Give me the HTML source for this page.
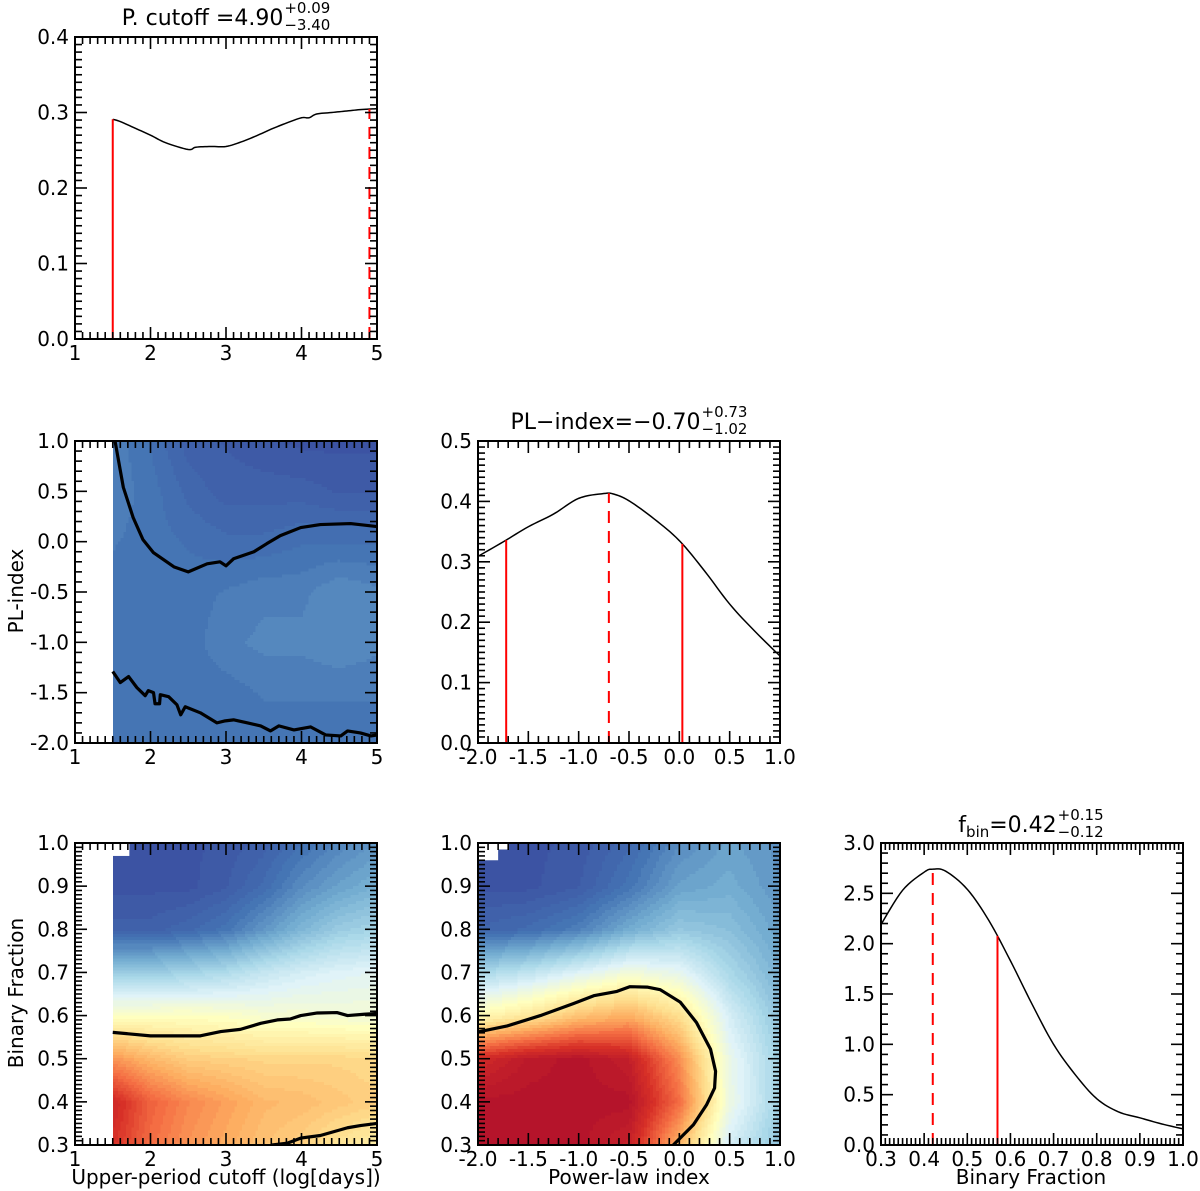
<!DOCTYPE html>
<html><head><meta charset="utf-8"><style>
html,body{margin:0;padding:0;background:#fff;}
svg{display:block;font-family:"DejaVu Sans","Liberation Sans",sans-serif;}
</style></head><body>
<svg id="fig" width="1200" height="1191" viewBox="0 0 1200 1191" xmlns="http://www.w3.org/2000/svg">
<g id="layer"></g>
</svg>
<script>
// ---------- data ----------
const pcX = [1.5,1.6,1.8,2.0,2.2,2.5,2.6,2.8,3.0,3.2,3.4,3.6,3.8,4.0,4.1,4.2,4.4,4.6,4.8,5.0];
const pcY = [0.291,0.288,0.279,0.270,0.260,0.251,0.254,0.255,0.255,0.261,0.269,0.278,0.286,0.293,0.293,0.298,0.300,0.302,0.304,0.305];
const pcSolid = [1.5];
const pcDashed = [4.9];
const plX = [-2.0,-1.75,-1.5,-1.25,-1.0,-0.75,-0.65,-0.5,-0.25,0.0,0.25,0.5,0.75,1.0];
const plY = [0.309,0.333,0.358,0.379,0.405,0.413,0.412,0.401,0.371,0.335,0.285,0.230,0.185,0.144];
const plSolid = [-1.72,0.03];
const plDashed = [-0.70];
const bfX = [0.30,0.35,0.40,0.42,0.45,0.50,0.55,0.60,0.65,0.70,0.75,0.80,0.85,0.90,0.95,1.00];
const bfY = [2.19,2.53,2.71,2.74,2.72,2.54,2.23,1.83,1.40,1.00,0.70,0.46,0.33,0.27,0.21,0.16];
const bfSolid = [0.57];
const bfDashed = [0.42];
const gridPCx = [1.5,2.0,2.5,3.0,3.5,4.0,4.5,5.0];
const gridPLy = [1.0,0.5,0.0,-0.5,-1.0,-1.5,-2.0];
const densPLPC = [
 [0.12,0.09,0.05,0.04,0.03,0.02,0.02,0.02],
 [0.12,0.10,0.07,0.05,0.05,0.05,0.04,0.04],
 [0.11,0.10,0.09,0.08,0.08,0.09,0.09,0.09],
 [0.10,0.10,0.10,0.11,0.12,0.12,0.14,0.13],
 [0.10,0.10,0.10,0.12,0.13,0.13,0.14,0.13],
 [0.10,0.10,0.10,0.10,0.11,0.11,0.11,0.11],
 [0.09,0.10,0.10,0.10,0.10,0.10,0.10,0.10]];
const cPLPC1x = [1.53,1.64,1.77,1.9,2.04,2.31,2.5,2.75,2.92,3.0,3.1,3.37,3.54,3.72,3.99,4.25,4.65,5.0];
const cPLPC1y = [1.0,0.54,0.24,0.02,-0.11,-0.25,-0.3,-0.22,-0.2,-0.24,-0.17,-0.1,-0.02,0.06,0.14,0.17,0.18,0.15];
const cPLPC2x = [1.5,1.6,1.71,1.82,1.93,1.97,2.04,2.06,2.12,2.13,2.24,2.35,2.4,2.46,2.66,2.88,2.99,3.1,3.28,3.46,3.59,3.7,3.9,4.12,4.32,4.52,4.61,4.78,4.92,5.0];
const cPLPC2y = [-1.29,-1.4,-1.34,-1.45,-1.53,-1.48,-1.5,-1.61,-1.61,-1.52,-1.54,-1.62,-1.72,-1.64,-1.7,-1.8,-1.78,-1.77,-1.8,-1.83,-1.88,-1.83,-1.87,-1.84,-1.92,-1.93,-1.88,-1.9,-1.93,-1.92];
const gridBFy = [1.0,0.9,0.8,0.7,0.6,0.5,0.4,0.3];
const densBFPC = [
 [0.02,0.02,0.02,0.03,0.05,0.09,0.13,0.16],
 [0.02,0.02,0.02,0.04,0.08,0.14,0.18,0.21],
 [0.05,0.05,0.07,0.10,0.16,0.22,0.27,0.29],
 [0.27,0.27,0.29,0.31,0.35,0.38,0.40,0.41],
 [0.50,0.50,0.50,0.49,0.47,0.47,0.46,0.46],
 [0.74,0.68,0.64,0.63,0.62,0.62,0.62,0.61],
 [0.93,0.82,0.76,0.72,0.68,0.67,0.65,0.63],
 [0.90,0.80,0.74,0.70,0.66,0.63,0.58,0.55]];
const cBFPC1x = [1.5,2.0,2.66,2.93,3.19,3.46,3.68,3.85,3.99,4.21,4.47,4.61,4.83,5.0];
const cBFPC1y = [0.561,0.553,0.553,0.563,0.568,0.582,0.59,0.592,0.6,0.606,0.607,0.6,0.603,0.605];
const cBFPC2x = [3.61,3.81,3.99,4.25,4.43,4.61,4.78,5.0];
const cBFPC2y = [0.3,0.304,0.316,0.322,0.331,0.34,0.345,0.35];
const gridPLx = [-2.0,-1.5,-1.0,-0.5,0.0,0.5,1.0];
const densBFPL = [
 [0.02,0.02,0.03,0.07,0.14,0.18,0.15],
 [0.02,0.02,0.04,0.10,0.18,0.20,0.16],
 [0.06,0.08,0.12,0.20,0.26,0.24,0.18],
 [0.30,0.34,0.40,0.46,0.42,0.30,0.21],
 [0.52,0.58,0.66,0.70,0.60,0.38,0.25],
 [0.92,0.98,1.00,0.96,0.75,0.43,0.28],
 [1.00,1.00,1.00,1.00,0.80,0.44,0.28],
 [1.00,1.00,1.00,0.95,0.68,0.38,0.25]];
const cBFPLx = [-2,-1.71,-1.38,-1.05,-0.85,-0.62,-0.49,-0.32,-0.19,0.01,0.17,0.31,0.36,0.35,0.27,0.14,-0.06];
const cBFPLy = [0.562,0.576,0.6,0.628,0.646,0.656,0.667,0.666,0.66,0.631,0.584,0.522,0.471,0.432,0.393,0.347,0.3];

// ---------- helpers ----------
const NS = "http://www.w3.org/2000/svg";
const root = document.getElementById('layer');
function mk(tag, attrs, parent){
  const e = document.createElementNS(NS, tag);
  for (const k in attrs) e.setAttribute(k, attrs[k]);
  (parent||root).appendChild(e);
  return e;
}
const stops = [[0,'#3a4c9f'],[0.1,'#4575b4'],[0.2,'#74add1'],[0.3,'#abd9e9'],[0.4,'#e0f3f8'],[0.5,'#ffffbf'],[0.6,'#fee090'],[0.7,'#fdae61'],[0.8,'#f46d43'],[0.9,'#d73027'],[1.0,'#b5142b']];
function hex(c){return [parseInt(c.substr(1,2),16),parseInt(c.substr(3,2),16),parseInt(c.substr(5,2),16)];}
function cmap(v){
  v = Math.max(0, Math.min(1, v));
  v = Math.round(v*60)/60;
  for (let i=0;i<stops.length-1;i++){
    if (v <= stops[i+1][0]){
      const t=(v-stops[i][0])/(stops[i+1][0]-stops[i][0]);
      const a=hex(stops[i][1]), b=hex(stops[i+1][1]);
      return 'rgb('+a.map((q,j)=>Math.round(q+(b[j]-q)*t)).join(',')+')';
    }
  }
  return stops[stops.length-1][1];
}
function smooth(xs, ys){
  // Catmull-Rom densification (rendering only)
  const ox=[], oy=[];
  for (let i=0;i<xs.length-1;i++){
    const i0=Math.max(0,i-1), i3=Math.min(xs.length-1,i+2);
    for (let s=0;s<8;s++){
      const t=s/8, t2=t*t, t3=t2*t;
      const f=(p0,p1,p2,p3)=>0.5*((2*p1)+(-p0+p2)*t+(2*p0-5*p1+4*p2-p3)*t2+(-p0+3*p1-3*p2+p3)*t3);
      ox.push(f(xs[i0],xs[i],xs[i+1],xs[i3])); oy.push(f(ys[i0],ys[i],ys[i+1],ys[i3]));
    }
  }
  ox.push(xs[xs.length-1]); oy.push(ys[ys.length-1]);
  return [ox,oy];
}
function makePanel(cfg){
  const L=cfg.x, T=cfg.y, W=302, H=302;
  const sx = v => L + (v-cfg.xmin)/(cfg.xmax-cfg.xmin)*W;
  const sy = v => T + H - (v-cfg.ymin)/(cfg.ymax-cfg.ymin)*H;
  const g = mk('g',{});
  
  
  return {L,T,W,H,sx,sy,g,cfg};
}
function heatmap(p, gx, gy, dens){
  const hg = mk('g',{'shape-rendering':'crispEdges'}, p.g);
  
  
  const N=100;
  const x0=gx[0], x1=gx[gx.length-1], y0=gy[gy.length-1], y1=gy[0];
  // bicubic-ish: smooth with cosine interpolation
  const sm = t => t; 
  for (let i=0;i<N;i++){
    for (let j=0;j<N;j++){
      const xv = x0 + (i+0.5)/N*(x1-x0);
      const yv = y0 + (j+0.5)/N*(y1-y0);
      let fi = (xv-x0)/(x1-x0)*(gx.length-1);
      let fj = (y1-yv)/(y1-y0)*(gy.length-1);
      let i0=Math.min(Math.floor(fi),gx.length-2), j0=Math.min(Math.floor(fj),gy.length-2);
      const tx=sm(fi-i0), ty=sm(fj-j0);
      const v = dens[j0][i0]*(1-tx)*(1-ty)+dens[j0][i0+1]*tx*(1-ty)+dens[j0+1][i0]*(1-tx)*ty+dens[j0+1][i0+1]*tx*ty;
      const xa=p.sx(x0+i/N*(x1-x0)), xb=p.sx(x0+(i+1)/N*(x1-x0));
      const ya=p.sy(y0+(j+1)/N*(y1-y0)), yb=p.sy(y0+j/N*(y1-y0));
      const r = mk('rect',{x:xa.toFixed(2),y:ya.toFixed(2),width:(xb-xa+0.6).toFixed(2),height:(yb-ya+0.6).toFixed(2),fill:cmap(v)},hg);
      
      
    }
  }
}
function line(p, xs, ys, attrs, name){
  const d = xs.map((x,i)=>(i?'L':'M')+p.sx(x).toFixed(2)+','+p.sy(ys[i]).toFixed(2)).join('');
  const e = mk('path', Object.assign({d, fill:'none'}, attrs), p.g);
  
  
  return e;
}
function interp(xs, ys, x){
  for (let i=0;i<xs.length-1;i++) if (x>=xs[i] && x<=xs[i+1]) return ys[i]+(ys[i+1]-ys[i])*(x-xs[i])/(xs[i+1]-xs[i]);
  return ys[ys.length-1];
}
function vline(p, x, top, dashed, name){
  const e = mk('line',{x1:p.sx(x),x2:p.sx(x),y1:p.sy(0),y2:p.sy(top),stroke:'#ff0000','stroke-width':2,'stroke-dasharray':dashed?'12,8':'none'},p.g);
  
  
}
function frame(p, xmaj, xmin, ymaj, ymin, xd, yd){
  const c=p.cfg, g=p.g;
  const ax = mk('g',{stroke:'#000','stroke-width':1.6},g);
  
  
  const eps=1e-9;
  const nx = Math.round((c.xmax-c.xmin)/xmin);
  for (let k=0;k<=nx;k++){
    const v=c.xmin+k*xmin, X=p.sx(v);
    const isMaj = Math.abs((v-c.xmin)/xmaj - Math.round((v-c.xmin)/xmaj))<1e-6;
    const len = isMaj?12:7;
    mk('line',{x1:X,x2:X,y1:p.T+p.H,y2:p.T+p.H-len},ax);
    mk('line',{x1:X,x2:X,y1:p.T,y2:p.T+len},ax);
  }
  const ny = Math.round((c.ymax-c.ymin)/ymin);
  for (let k=0;k<=ny;k++){
    const v=c.ymin+k*ymin, Y=p.sy(v);
    const isMaj = Math.abs((v-c.ymin)/ymaj - Math.round((v-c.ymin)/ymaj))<1e-6;
    const len = isMaj?12:7;
    mk('line',{x1:p.L,x2:p.L+len,y1:Y,y2:Y},ax);
    mk('line',{x1:p.L+p.W,x2:p.L+p.W-len,y1:Y,y2:Y},ax);
  }
  const fr = mk('rect',{x:p.L,y:p.T,width:p.W,height:p.H,fill:'none',stroke:'#000','stroke-width':2},g);
  
  
  const tl = mk('g',{'font-size':20,fill:'#000'},g);
  
  
  const mx = Math.round((c.xmax-c.xmin)/xmaj);
  for (let k=0;k<=mx;k++){
    const v=c.xmin+k*xmaj;
    const t=mk('text',{x:p.sx(v),y:p.T+p.H+21,'text-anchor':'middle'},tl);
    t.textContent = (Math.abs(v)<eps?0:v).toFixed(xd);
    
    
  }
  const my = Math.round((c.ymax-c.ymin)/ymaj);
  for (let k=0;k<=my;k++){
    const v=c.ymin+k*ymaj;
    const t=mk('text',{x:p.L-6,y:p.sy(v)+7,'text-anchor':'end'},tl);
    t.textContent = (Math.abs(v)<eps?0:v).toFixed(yd);
    
    
  }
}
function clipFor(p,id){
  const cp = mk('clipPath',{id},root);
  mk('rect',{x:p.L,y:p.T,width:p.W,height:p.H},cp);
}
function marginal(p, xs, ys, solid, dashed, name){
  const [sx_, sy_] = smooth(xs, ys);
  line(p, sx_, sy_, {stroke:'#000','stroke-width':1.5}, name);
  solid.forEach(v=>vline(p,v,interp(sx_,sy_,v),false,'credible-bound-line'));
  dashed.forEach(v=>vline(p,v,interp(sx_,sy_,v),true,'best-value-line'));
}

// ---------- panels ----------
const p1 = makePanel({name:'pcutoff-marginal',x:75,y:37,xmin:1,xmax:5,ymin:0,ymax:0.4});
marginal(p1,pcX,pcY,pcSolid,pcDashed,'pcutoff-curve');
frame(p1,1,0.1,0.1,0.01,0,1);

const p2 = makePanel({name:'pl-vs-pcutoff-density',x:75,y:441,xmin:1,xmax:5,ymin:-2,ymax:1});
heatmap(p2,gridPCx,gridPLy,densPLPC);
clipFor(p2,'c2');
const c2g=mk('g',{'clip-path':'url(#c2)'},p2.g);
{const a=line(p2,cPLPC1x,cPLPC1y,{stroke:'#000','stroke-width':3.2,'stroke-linejoin':'round'},'contour-upper');c2g.appendChild(a);
 const b=line(p2,cPLPC2x,cPLPC2y,{stroke:'#000','stroke-width':3.2,'stroke-linejoin':'round'},'contour-lower');c2g.appendChild(b);}
frame(p2,1,0.1,0.5,0.1,0,1);

const p3 = makePanel({name:'pl-index-marginal',x:478,y:441,xmin:-2,xmax:1,ymin:0,ymax:0.5});
marginal(p3,plX,plY,plSolid,plDashed,'pl-index-curve');
frame(p3,0.5,0.1,0.1,0.01,1,1);

const p4 = makePanel({name:'bf-vs-pcutoff-density',x:75,y:843,xmin:1,xmax:5,ymin:0.3,ymax:1.0});
heatmap(p4,gridPCx,gridBFy,densBFPC);
{const w=mk('rect',{x:p4.sx(1.5),y:p4.sy(1.0),width:p4.sx(1.72)-p4.sx(1.5),height:p4.sy(0.97)-p4.sy(1.0),fill:'#fff'},p4.g);
 }
clipFor(p4,'c4');
const c4g=mk('g',{'clip-path':'url(#c4)'},p4.g);
{const a=line(p4,cBFPC1x,cBFPC1y,{stroke:'#000','stroke-width':3.2,'stroke-linejoin':'round'},'contour-upper');c4g.appendChild(a);
 const b=line(p4,cBFPC2x,cBFPC2y,{stroke:'#000','stroke-width':3.2,'stroke-linejoin':'round'},'contour-lower');c4g.appendChild(b);}
frame(p4,1,0.1,0.1,0.01,0,1);

const p5 = makePanel({name:'bf-vs-pl-density',x:478,y:843,xmin:-2,xmax:1,ymin:0.3,ymax:1.0});
heatmap(p5,gridPLx,gridBFy,densBFPL);
{const w=mk('rect',{x:p5.sx(-2),y:p5.sy(1.0),width:p5.sx(-1.8)-p5.sx(-2),height:p5.sy(0.96)-p5.sy(1.0),fill:'#fff'},p5.g);
 
 const w2=mk('rect',{x:p5.sx(-1.8),y:p5.sy(1.0),width:p5.sx(-1.7)-p5.sx(-1.8),height:p5.sy(0.985)-p5.sy(1.0),fill:'#fff'},p5.g);
 }
clipFor(p5,'c5');
const c5g=mk('g',{'clip-path':'url(#c5)'},p5.g);
{const a=line(p5,cBFPLx,cBFPLy,{stroke:'#000','stroke-width':3.2,'stroke-linejoin':'round'},'contour');c5g.appendChild(a);}
frame(p5,0.5,0.1,0.1,0.01,1,1);

const p6 = makePanel({name:'binary-fraction-marginal',x:881,y:843,xmin:0.3,xmax:1.0,ymin:0,ymax:3});
marginal(p6,bfX,bfY,bfSolid,bfDashed,'binary-fraction-curve');
frame(p6,0.1,0.01,0.5,0.1,1,1);

// ---------- titles & axis labels ----------
function title(cx, base, main, sup, sub, name, mainSub){
  const g=mk('g',{fill:'#000'});
  
  
  const t=mk('text',{x:0,y:base,'font-size':22},g);
  if (mainSub){
    const a=mk('tspan',{},t); a.textContent=main[0];
    const b=mk('tspan',{'font-size':15,dy:5},t); b.textContent=mainSub;
    const c=mk('tspan',{'font-size':22,dy:-5},t); c.textContent=main[1];
  } else t.textContent=main;
  const w=t.getComputedTextLength();
  const s1=mk('text',{x:w+1,y:base-12,'font-size':15},g); s1.textContent=sup;
  const s2=mk('text',{x:w+1,y:base+5,'font-size':15},g); s2.textContent=sub;
  const tw = w+1+Math.max(s1.getComputedTextLength(),s2.getComputedTextLength());
  g.setAttribute('transform','translate('+(cx-tw/2).toFixed(1)+',0)');
}
title(226,25,'P. cutoff =4.90','+0.09','\u22123.40','pcutoff-title');
title(629,429,'PL\u2212index=\u22120.70','+0.73','\u22121.02','pl-index-title');
title(1031,832,['f','=0.42'],'+0.15','\u22120.12','binary-fraction-title','bin');

function label(x,y,txt,rot,name){
  const t=mk('text',{x,y,'font-size':20,'text-anchor':'middle',transform:rot?'rotate(-90 '+x+' '+y+')':''});
  t.textContent=txt;
  
  
}
label(23,591,'PL-index',true,'y-axis-title-pl-index');
label(23,993,'Binary Fraction',true,'y-axis-title-binary-fraction');
label(226,1184,'Upper-period cutoff (log[days])',false,'x-axis-title-pcutoff');
label(629,1184,'Power-law index',false,'x-axis-title-power-law');
label(1031,1184,'Binary Fraction',false,'x-axis-title-binary-fraction');
</script>
</body></html>
